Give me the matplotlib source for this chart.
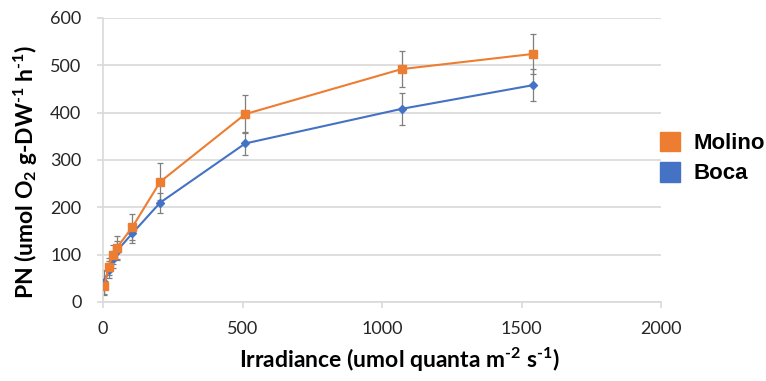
import numpy as np
import matplotlib
matplotlib.use("Agg")
import matplotlib.pyplot as plt
from matplotlib.patches import Patch

# irradiance steps (umol quanta m-2 s-1)
irradiance = [5, 20, 35, 50, 105, 205, 510, 1070, 1540]

# net photosynthesis
molino = [34, 75, 100, 115, 158, 254, 397, 492, 524]
molino_err = [20, 17, 20, 25, 28, 39, 41, 38, 42]
boca = [42, 68, 90, 108, 145, 210, 335, 408, 458]
boca_err = [25, 18, 18, 20, 20, 21, 24, 34, 34]

series_names = ["Molino", "Boca"]
orange = "#ED7D31"
blue = "#4472C4"
grid_grey = "#D9D9D9"
err_grey = "#7F7F7F"

plt.rcParams["mathtext.fontset"] = "custom"
plt.rcParams["mathtext.rm"] = "Lato:bold"
plt.rcParams["mathtext.bf"] = "Lato:bold"
plt.rcParams["mathtext.default"] = "bf"

fig = plt.figure(figsize=(7.66, 3.81), dpi=100)
ax = fig.add_axes([103/766, 1 - 302/381, 558/766, 284/381])

# error bars first so markers sit on top
ax.errorbar(irradiance, boca, yerr=boca_err, fmt="none", ecolor=err_grey,
            elinewidth=0.9, capsize=2.5, capthick=0.9, zorder=2)
ax.errorbar(irradiance, molino, yerr=molino_err, fmt="none", ecolor=err_grey,
            elinewidth=0.9, capsize=2.5, capthick=0.9, zorder=2)
ax.plot(irradiance, boca, color=blue, lw=1.5, marker="D", ms=4,
        mec=blue, mfc=blue, zorder=3)
ax.plot(irradiance, molino, color=orange, lw=1.5, marker="s", ms=6,
        mec=orange, mfc=orange, zorder=4)

ax.set_xlim(0, 2000)
ax.set_ylim(0, 600)
ax.set_xticks(np.arange(0, 2001, 500))
ax.set_yticks(np.arange(0, 601, 100))
ax.yaxis.grid(True, color=grid_grey, lw=1.2)
ax.set_axisbelow(True)

for s in ["top", "right"]:
    ax.spines[s].set_visible(False)
for s in ["left", "bottom"]:
    ax.spines[s].set_color(grid_grey)
    ax.spines[s].set_linewidth(1.2)

ax.tick_params(axis="both", direction="out", length=4.5, width=1.2,
               color=grid_grey, labelsize=13, labelcolor="#262626")
ax.tick_params(axis="y", pad=11)
ax.tick_params(axis="x", pad=9)
for lab in ax.get_xticklabels() + ax.get_yticklabels():
    lab.set_family("Lato")

# \text{} keeps a plain hyphen in the superscripts, like the original
ax.set_xlabel(r"Irradiance (umol quanta m$^{\text{-2}}$ s$^{\text{-1}}$)",
              family="Lato", fontweight="bold", fontsize=16.5, va="center")
ax.xaxis.set_label_coords(0.532, -0.204)
ax.set_ylabel(r"PN (umol O$_{2}$ g-DW$^{\text{-1}}$ h$^{\text{-1}}$)",
              family="Lato", fontweight="bold", fontsize=16.5, va="center")
ax.yaxis.set_label_coords(-0.138, 0.46)

handles = [Patch(facecolor=orange, edgecolor=orange),
           Patch(facecolor=blue, edgecolor=blue)]
fig.legend(handles, series_names, loc="center left",
           bbox_to_anchor=(660/766, 1 - 158/381), frameon=False,
           prop={"family": "Liberation Sans", "weight": "bold", "size": 16},
           handlelength=0.9, handleheight=1.0, handletextpad=0.6,
           labelspacing=0.35, borderpad=0, borderaxespad=0)

fig.savefig("out.png", dpi=100)
